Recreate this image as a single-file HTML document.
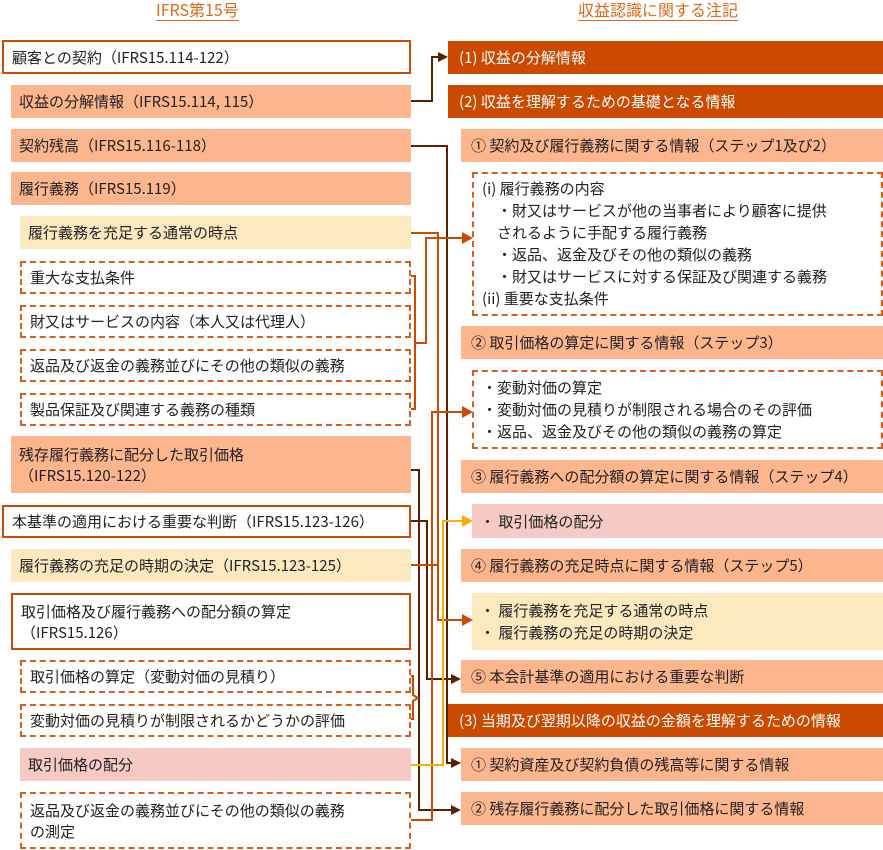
<!DOCTYPE html>
<html><head><meta charset="utf-8"><style>
body{margin:0;width:883px;height:850px;position:relative;background:#fff;font-family:"Noto Sans CJK JP","Liberation Sans",sans-serif;font-size:15px;color:#222;overflow:hidden}
.b{position:absolute;box-sizing:border-box;padding-left:8px;display:flex;align-items:center;line-height:21px;white-space:nowrap}
.s{background:#fdb58d}
.y{background:#fde9c0}
.p{background:#f6c9c5}
.w{border:2px solid #cc4a00;background:#fff}
.d{border:2px dashed #d8601e;background:#fff}
.k{background:#cc4a00;color:#fff;padding-left:11px}
.h{position:absolute;top:-2px;color:#e06a1a;font-size:16px;border-bottom:1.5px solid #e06a1a;line-height:22px}
svg{position:absolute;left:0;top:0}
</style></head><body>
<div class="h" style="left:156px">IFRS第15号</div>
<div class="h" style="left:578px">収益認識に関する注記</div>

<div class="b w" style="left:2px;top:40px;width:409px;height:34px">顧客との契約（IFRS15.114-122）</div>
<div class="b s" style="left:11px;top:85px;width:400px;height:33px">収益の分解情報（IFRS15.114, 115）</div>
<div class="b s" style="left:11px;top:129px;width:400px;height:33px">契約残高（IFRS15.116-118）</div>
<div class="b s" style="left:11px;top:172px;width:400px;height:33px">履行義務（IFRS15.119）</div>
<div class="b y" style="left:20px;top:216px;width:391px;height:33px">履行義務を充足する通常の時点</div>
<div class="b d" style="left:20px;top:261px;width:391px;height:33px">重大な支払条件</div>
<div class="b d" style="left:20px;top:305px;width:391px;height:33px">財又はサービスの内容（本人又は代理人）</div>
<div class="b d" style="left:20px;top:349px;width:391px;height:33px">返品及び返金の義務並びにその他の類似の義務</div>
<div class="b d" style="left:20px;top:393px;width:391px;height:33px">製品保証及び関連する義務の種類</div>
<div class="b s" style="left:11px;top:436px;width:400px;height:57px">残存履行義務に配分した取引価格<br>（IFRS15.120-122）</div>
<div class="b w" style="left:2px;top:505px;width:409px;height:33px">本基準の適用における重要な判断（IFRS15.123-126）</div>
<div class="b y" style="left:11px;top:549px;width:400px;height:33px">履行義務の充足の時期の決定（IFRS15.123-125）</div>
<div class="b w" style="left:11px;top:593px;width:400px;height:57px">取引価格及び履行義務への配分額の算定<br>（IFRS15.126）</div>
<div class="b d" style="left:20px;top:660px;width:391px;height:33px">取引価格の算定（変動対価の見積り）</div>
<div class="b d" style="left:20px;top:704px;width:391px;height:33px">変動対価の見積りが制限されるかどうかの評価</div>
<div class="b p" style="left:20px;top:748px;width:391px;height:33px">取引価格の配分</div>
<div class="b d" style="left:20px;top:792px;width:391px;height:57px">返品及び返金の義務並びにその他の類似の義務<br>の測定</div>

<div class="b k" style="left:448px;top:41px;width:435px;height:33px">(1) 収益の分解情報</div>
<div class="b k" style="left:448px;top:85px;width:435px;height:33px">(2) 収益を理解するための基礎となる情報</div>
<div class="b s" style="left:461px;top:129px;width:422px;height:33px;padding-left:10px">① 契約及び履行義務に関する情報（ステップ1及び2）</div>
<div class="b d" style="left:472px;top:172px;width:411px;height:144px;line-height:22px">(i) 履行義務の内容<br>　・財又はサービスが他の当事者により顧客に提供<br>　されるように手配する履行義務<br>　・返品、返金及びその他の類似の義務<br>　・財又はサービスに対する保証及び関連する義務<br>(ii) 重要な支払条件</div>
<div class="b s" style="left:461px;top:326px;width:422px;height:33px;padding-left:10px">② 取引価格の算定に関する情報（ステップ3）</div>
<div class="b d" style="left:472px;top:370px;width:411px;height:79px;line-height:22px">・変動対価の算定<br>・変動対価の見積りが制限される場合のその評価<br>・返品、返金及びその他の類似の義務の算定</div>
<div class="b s" style="left:461px;top:460px;width:422px;height:33px;padding-left:10px">③ 履行義務への配分額の算定に関する情報（ステップ4）</div>
<div class="b p" style="left:472px;top:504px;width:411px;height:34px">・ 取引価格の配分</div>
<div class="b s" style="left:461px;top:549px;width:422px;height:33px;padding-left:10px">④ 履行義務の充足時点に関する情報（ステップ5）</div>
<div class="b y" style="left:472px;top:593px;width:411px;height:57px;line-height:22px">・ 履行義務を充足する通常の時点<br>・ 履行義務の充足の時期の決定</div>
<div class="b s" style="left:461px;top:660px;width:422px;height:33px;padding-left:10px">⑤ 本会計基準の適用における重要な判断</div>
<div class="b k" style="left:448px;top:704px;width:435px;height:33px">(3) 当期及び翌期以降の収益の金額を理解するための情報</div>
<div class="b s" style="left:461px;top:748px;width:422px;height:33px;padding-left:10px">① 契約資産及び契約負債の残高等に関する情報</div>
<div class="b s" style="left:461px;top:792px;width:422px;height:33px;padding-left:10px">② 残存履行義務に配分した取引価格に関する情報</div>

<svg width="883" height="850" fill="none" stroke-width="2">
<g stroke="#5a2000">
<polyline points="411,101 432,101 432,57 440,57"/>
<polyline points="411,146 447,146 447,763 452,763"/>
<polyline points="411,470 419,470 419,810 452,810"/>
<polyline points="411,521 427,521 427,679 452,679"/>
</g>
<g fill="#5a2000"><polygon points="448,57 438,52 438,62"/><polygon points="461,763 451,758 451,768"/><polygon points="461,810 451,805 451,815"/><polygon points="461,679 451,674 451,684"/></g>
<g stroke="#cc4a00">
<polyline points="411,233 438,233 438,620 464,620"/>
<polyline points="411,565 438,565"/>
<polyline points="415,343 426,343 426,238 464,238"/>
<polyline points="411,276 415,276 415,409 411,409"/>
<polyline points="411,820 432,820 432,412 464,412"/>
<polyline points="411,676 413,676 413,695 418,698 413,701 413,719 411,719"/>
</g>
<g fill="#cc4a00"><polygon points="473,238 462,232 462,244"/><polygon points="473,412 462,406 462,418"/><polygon points="473,620 462,614 462,626"/></g>
<polyline stroke="#f5b000" points="411,765 443,765 443,521 464,521"/>
<polygon fill="#f5b000" points="473,521 462,515 462,527"/>
</svg>
</body></html>
